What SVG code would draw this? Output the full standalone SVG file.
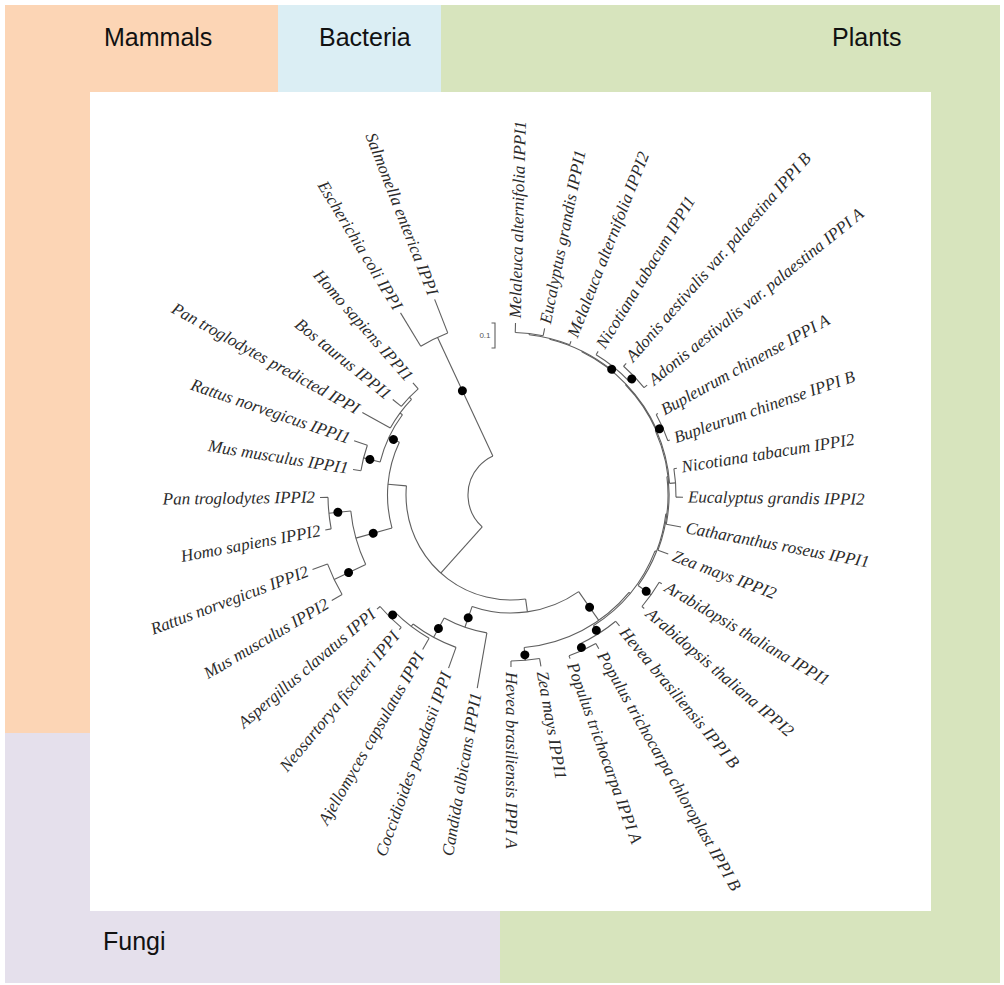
<svg xmlns="http://www.w3.org/2000/svg" width="1004" height="985" viewBox="0 0 1004 985">
<style>
.br{fill:none;stroke:#5f5f5f;stroke-width:1.1}
.lb{font-family:"Liberation Serif","Times New Roman",serif;font-style:italic;font-size:17px;fill:#2b2b2b}
.grp{font-family:"Liberation Sans",Arial,sans-serif;font-size:25px;fill:#111}
.dt{fill:#000}
</style>
<g id="background">
<rect x="441" y="5" width="559" height="978" fill="#D7E4BD"/>
<rect x="5" y="5" width="273" height="728" fill="#FCD5B5"/>
<rect x="278" y="5" width="163" height="87" fill="#DBEEF4"/>
<rect x="5" y="733" width="495" height="250" fill="#E5E0EC"/>
<rect x="90" y="92" width="841" height="819" fill="#FFFFFF"/>
</g>
<g id="group-labels" class="grp">
<g id="lbl-mammals"><text x="104" y="46">Mammals</text></g>
<g id="lbl-bacteria"><text x="319" y="46">Bacteria</text></g>
<g id="lbl-plants"><text x="832" y="46">Plants</text></g>
<g id="lbl-fungi"><text x="103" y="950">Fungi</text></g>
</g>
<g id="scale-bar">
<path class="br" d="M491.5,323H495V348H491.5"/>
<text x="490.5" y="338" text-anchor="end" font-family="Liberation Sans,Arial,sans-serif" font-size="8" fill="#555">0.1</text>
</g>
<g id="connectors" class="br" transform="translate(511,495)">
<line x1="43" x2="174" transform="rotate(245)"/>
<line x1="43" x2="105" transform="rotate(132)"/>
<line x1="105" x2="123.5" transform="rotate(185)"/>
<line x1="123.5" x2="161" transform="rotate(164.47)"/>
<line x1="161" x2="183" transform="rotate(174.3)"/>
<line x1="161" x2="196" transform="rotate(154.47)"/>
<line x1="123.5" x2="135" transform="rotate(205.3)"/>
<line x1="135" x2="152" transform="rotate(194.14)"/>
<line x1="135" x2="138" transform="rotate(216.45)"/>
<line x1="138" x2="141" transform="rotate(223.89)"/>
<line x1="105" x2="118" transform="rotate(82)"/>
<line x1="118" x2="140" transform="rotate(109.22)"/>
<line x1="140" x2="162" transform="rotate(118.52)"/>
<line x1="162" x2="165" transform="rotate(127.2)"/>
<line x1="165" x2="172" transform="rotate(134.63)"/>
<line x1="118" x2="153" transform="rotate(55)"/>
<line x1="153" x2="166" transform="rotate(85.05)"/>
<line x1="153" x2="154.5" transform="rotate(39.5)"/>
<line x1="154.5" x2="164" transform="rotate(57.77)"/>
<line x1="164" x2="171" transform="rotate(65.22)"/>
<line x1="154.5" x2="156" transform="rotate(21.2)"/>
<line x1="156" x2="172" transform="rotate(35.46)"/>
<line x1="156" x2="157" transform="rotate(6.95)"/>
<line x1="157" x2="158" transform="rotate(-6.7)"/>
<line x1="158" x2="159" transform="rotate(-24.05)"/>
<line x1="159" x2="165" transform="rotate(-4.2)"/>
<line x1="159" x2="159.8" transform="rotate(-43.9)"/>
<line x1="159.8" x2="166" transform="rotate(-24.04)"/>
<line x1="159.8" x2="160.5" transform="rotate(-63.7)"/>
<line x1="160.5" x2="164" transform="rotate(-51.3)"/>
<line x1="164" x2="171" transform="rotate(-43.88)"/>
<line x1="160.5" x2="161.2" transform="rotate(-76.1)"/>
<line x1="161.2" x2="162.5" transform="rotate(-83.54)"/>
<line x1="162.5" x2="172" transform="rotate(-88.5)"/>
<line x1="162.5" x2="170" transform="rotate(-78.58)"/>
<line x1="161.2" x2="165" transform="rotate(-68.67)"/>
<line x1="164" x2="168" transform="rotate(-58.75)"/>
<line x1="171" x2="175" transform="rotate(-48.83)"/>
<line x1="171" x2="175" transform="rotate(-38.92)"/>
<line x1="166" x2="168" transform="rotate(-29)"/>
<line x1="166" x2="168" transform="rotate(-19.08)"/>
<line x1="165" x2="168" transform="rotate(-9.16)"/>
<line x1="165" x2="172" transform="rotate(0.75)"/>
<line x1="158" x2="173" transform="rotate(10.67)"/>
<line x1="157" x2="168" transform="rotate(20.59)"/>
<line x1="172" x2="175" transform="rotate(30.5)"/>
<line x1="172" x2="175" transform="rotate(40.42)"/>
<line x1="164" x2="170" transform="rotate(50.34)"/>
<line x1="171" x2="177" transform="rotate(60.26)"/>
<line x1="171" x2="174" transform="rotate(70.17)"/>
<line x1="166" x2="174" transform="rotate(80.09)"/>
<line x1="166" x2="172" transform="rotate(90.01)"/>
<line x1="140" x2="196" transform="rotate(99.92)"/>
<line x1="162" x2="184" transform="rotate(109.84)"/>
<line x1="165" x2="178" transform="rotate(119.76)"/>
<line x1="172" x2="175" transform="rotate(129.67)"/>
<line x1="172" x2="176" transform="rotate(139.59)"/>
<line x1="196" x2="208" transform="rotate(149.51)"/>
<line x1="196" x2="212" transform="rotate(159.42)"/>
<line x1="183" x2="189" transform="rotate(169.34)"/>
<line x1="183" x2="191" transform="rotate(179.26)"/>
<line x1="152" x2="160" transform="rotate(189.18)"/>
<line x1="152" x2="166" transform="rotate(199.09)"/>
<line x1="138" x2="170" transform="rotate(209.01)"/>
<line x1="141" x2="152" transform="rotate(218.93)"/>
<line x1="141" x2="149" transform="rotate(228.84)"/>
<line x1="174" x2="213" transform="rotate(238.76)"/>
<line x1="174" x2="210" transform="rotate(248.68)"/>
<circle r="43" stroke-dasharray="84.8 2000" transform="rotate(132)"/>
<circle r="174" stroke-dasharray="30.13 2000" transform="rotate(238.76)"/>
<circle r="105" stroke-dasharray="188.76 2000" transform="rotate(82)"/>
<circle r="123.5" stroke-dasharray="88.01 2000" transform="rotate(164.47)"/>
<circle r="161" stroke-dasharray="55.72 2000" transform="rotate(154.47)"/>
<circle r="183" stroke-dasharray="31.68 2000" transform="rotate(169.34)"/>
<circle r="196" stroke-dasharray="33.9 2000" transform="rotate(149.51)"/>
<circle r="135" stroke-dasharray="52.57 2000" transform="rotate(194.14)"/>
<circle r="152" stroke-dasharray="26.29 2000" transform="rotate(189.18)"/>
<circle r="138" stroke-dasharray="35.84 2000" transform="rotate(209.01)"/>
<circle r="141" stroke-dasharray="24.39 2000" transform="rotate(218.93)"/>
<circle r="118" stroke-dasharray="111.67 2000" transform="rotate(55)"/>
<circle r="140" stroke-dasharray="45.45 2000" transform="rotate(99.92)"/>
<circle r="162" stroke-dasharray="49.08 2000" transform="rotate(109.84)"/>
<circle r="165" stroke-dasharray="42.82 2000" transform="rotate(119.76)"/>
<circle r="172" stroke-dasharray="29.78 2000" transform="rotate(129.67)"/>
<circle r="153" stroke-dasharray="121.63 2000" transform="rotate(39.5)"/>
<circle r="166" stroke-dasharray="28.74 2000" transform="rotate(80.09)"/>
<circle r="154.5" stroke-dasharray="98.61 2000" transform="rotate(21.2)"/>
<circle r="164" stroke-dasharray="42.59 2000" transform="rotate(50.34)"/>
<circle r="171" stroke-dasharray="29.58 2000" transform="rotate(60.26)"/>
<circle r="156" stroke-dasharray="77.62 2000" transform="rotate(6.95)"/>
<circle r="172" stroke-dasharray="29.78 2000" transform="rotate(30.5)"/>
<circle r="157" stroke-dasharray="74.78 2000" transform="rotate(-6.7)"/>
<circle r="158" stroke-dasharray="95.74 2000" transform="rotate(-24.05)"/>
<circle r="159" stroke-dasharray="110.17 2000" transform="rotate(-43.9)"/>
<circle r="165" stroke-dasharray="28.54 2000" transform="rotate(-9.16)"/>
<circle r="159.8" stroke-dasharray="110.61 2000" transform="rotate(-63.7)"/>
<circle r="166" stroke-dasharray="28.74 2000" transform="rotate(-29)"/>
<circle r="160.5" stroke-dasharray="69.47 2000" transform="rotate(-76.1)"/>
<circle r="164" stroke-dasharray="42.56 2000" transform="rotate(-58.75)"/>
<circle r="171" stroke-dasharray="29.58 2000" transform="rotate(-48.83)"/>
<circle r="161.2" stroke-dasharray="41.84 2000" transform="rotate(-83.54)"/>
<circle r="162.5" stroke-dasharray="28.14 2000" transform="rotate(-88.5)"/>
</g>
<g id="support-dots" class="dt" transform="translate(511,495)">
<circle cx="115" r="4.5" transform="rotate(245)"/>
<circle cx="143" r="4.5" transform="rotate(164.47)"/>
<circle cx="174" r="4.5" transform="rotate(174.3)"/>
<circle cx="180" r="4.5" transform="rotate(154.47)"/>
<circle cx="130" r="4.5" transform="rotate(205.3)"/>
<circle cx="145.5" r="4.5" transform="rotate(194.14)"/>
<circle cx="130" r="4.5" transform="rotate(109.22)"/>
<circle cx="152" r="4.5" transform="rotate(118.52)"/>
<circle cx="168.5" r="4.5" transform="rotate(134.63)"/>
<circle cx="137" r="4.5" transform="rotate(55)"/>
<circle cx="160.5" r="4.5" transform="rotate(85.05)"/>
<circle cx="160" r="4.5" transform="rotate(57.77)"/>
<circle cx="168" r="4.5" transform="rotate(65.22)"/>
<circle cx="166" r="4.5" transform="rotate(35.46)"/>
<circle cx="162.5" r="4.5" transform="rotate(-24.04)"/>
<circle cx="161" r="4.5" transform="rotate(-51.3)"/>
<circle cx="167.5" r="4.5" transform="rotate(-43.88)"/>
</g>
<g id="taxa" class="lb" transform="translate(511,495)">
<g id="t00"><text x="177" dy="0.3em" transform="rotate(-88.5)">Melaleuca alternifolia IPPI1</text></g>
<g id="t01"><text x="175" dy="0.3em" transform="rotate(-78.58)">Eucalyptus grandis IPPI1</text></g>
<g id="t02"><text x="170" dy="0.3em" transform="rotate(-68.67)">Melaleuca alternifolia IPPI2</text></g>
<g id="t03"><text x="173" dy="0.3em" transform="rotate(-58.75)">Nicotiana tabacum IPPI1</text></g>
<g id="t04"><text x="180" dy="0.3em" transform="rotate(-48.83)">Adonis aestivalis var. palaestina IPPI B</text></g>
<g id="t05"><text x="180" dy="0.3em" transform="rotate(-38.92)">Adonis aestivalis var. palaestina IPPI A</text></g>
<g id="t06"><text x="173" dy="0.3em" transform="rotate(-29)">Bupleurum chinense IPPI A</text></g>
<g id="t07"><text x="173" dy="0.3em" transform="rotate(-19.08)">Bupleurum chinense IPPI B</text></g>
<g id="t08"><text x="173" dy="0.3em" transform="rotate(-9.16)">Nicotiana tabacum IPPI2</text></g>
<g id="t09"><text x="177" dy="0.3em" transform="rotate(0.75)">Eucalyptus grandis IPPI2</text></g>
<g id="t10"><text x="178" dy="0.3em" transform="rotate(10.67)">Catharanthus roseus IPPI1</text></g>
<g id="t11"><text x="173" dy="0.3em" transform="rotate(20.59)">Zea mays IPPI2</text></g>
<g id="t12"><text x="180" dy="0.3em" transform="rotate(30.5)">Arabidopsis thaliana IPPI1</text></g>
<g id="t13"><text x="180" dy="0.3em" transform="rotate(40.42)">Arabidopsis thaliana IPPI2</text></g>
<g id="t14"><text x="175" dy="0.3em" transform="rotate(50.34)">Hevea brasiliensis IPPI B</text></g>
<g id="t15"><text x="182" dy="0.3em" transform="rotate(60.26)">Populus trichocarpa chloroplast IPPI B</text></g>
<g id="t16"><text x="179" dy="0.3em" transform="rotate(70.17)">Populus trichocarpa IPPI A</text></g>
<g id="t17"><text x="179" dy="0.3em" transform="rotate(80.09)">Zea mays IPPI1</text></g>
<g id="t18"><text x="177" dy="0.3em" transform="rotate(90.01)">Hevea brasiliensis IPPI A</text></g>
<g id="t19"><text x="-201" dy="0.3em" text-anchor="end" transform="rotate(-80.08)">Candida albicans IPPI1</text></g>
<g id="t20"><text x="-189" dy="0.3em" text-anchor="end" transform="rotate(-70.16)">Coccidioides posadasii IPPI</text></g>
<g id="t21"><text x="-183" dy="0.3em" text-anchor="end" transform="rotate(-60.24)">Ajellomyces capsulatus IPPI</text></g>
<g id="t22"><text x="-180" dy="0.3em" text-anchor="end" transform="rotate(-50.33)">Neosartorya fischeri IPPI</text></g>
<g id="t23"><text x="-181" dy="0.3em" text-anchor="end" transform="rotate(-40.41)">Aspergillus clavatus IPPI</text></g>
<g id="t24"><text x="-213" dy="0.3em" text-anchor="end" transform="rotate(-30.49)">Mus musculus IPPI2</text></g>
<g id="t25"><text x="-217" dy="0.3em" text-anchor="end" transform="rotate(-20.58)">Rattus norvegicus IPPI2</text></g>
<g id="t26"><text x="-194" dy="0.3em" text-anchor="end" transform="rotate(-10.66)">Homo sapiens IPPI2</text></g>
<g id="t27"><text x="-196" dy="0.3em" text-anchor="end" transform="rotate(-0.74)">Pan troglodytes IPPI2</text></g>
<g id="t28"><text x="-165" dy="0.3em" text-anchor="end" transform="rotate(9.18)">Mus musculus IPPI1</text></g>
<g id="t29"><text x="-171" dy="0.3em" text-anchor="end" transform="rotate(19.09)">Rattus norvegicus IPPI1</text></g>
<g id="t30"><text x="-175" dy="0.3em" text-anchor="end" transform="rotate(29.01)">Pan troglodytes predicted IPPI</text></g>
<g id="t31"><text x="-157" dy="0.3em" text-anchor="end" transform="rotate(38.93)">Bos taurus IPPI1</text></g>
<g id="t32"><text x="-154" dy="0.3em" text-anchor="end" transform="rotate(48.84)">Homo sapiens IPPI1</text></g>
<g id="t33"><text x="-218" dy="0.3em" text-anchor="end" transform="rotate(58.76)">Escherichia coli IPPI</text></g>
<g id="t34"><text x="-215" dy="0.3em" text-anchor="end" transform="rotate(68.68)">Salmonella enterica IPPI</text></g>
</g>
</svg>
